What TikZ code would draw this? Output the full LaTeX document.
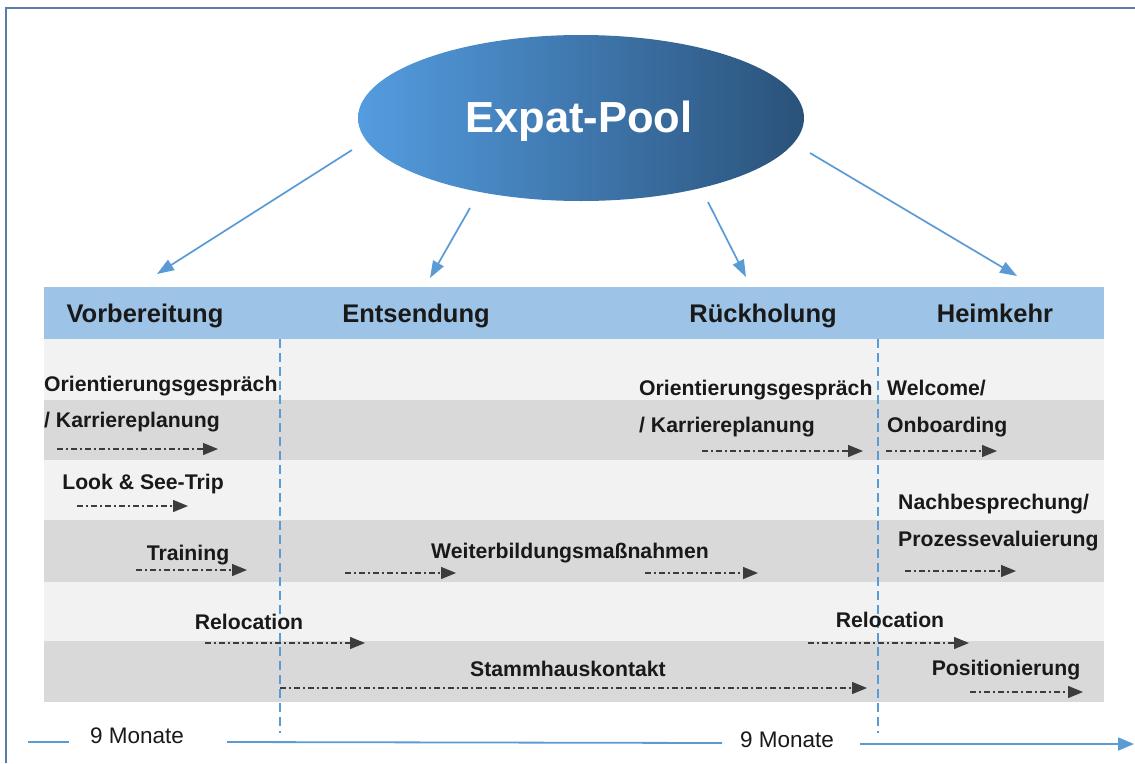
\documentclass[tikz,border=0pt]{standalone}
\usepackage{fontspec}
\setmainfont{Liberation Sans}
\usetikzlibrary{shapes.geometric,arrows.meta}
\definecolor{frameblue}{RGB}{88,125,170}
\definecolor{lineblue}{RGB}{91,155,213}
\definecolor{headband}{RGB}{157,195,230}
\definecolor{rowlight}{RGB}{242,242,242}
\definecolor{rowdark}{RGB}{217,217,217}
\definecolor{ellL}{RGB}{84,156,224}
\definecolor{ellR}{RGB}{42,82,122}
\definecolor{arrgray}{RGB}{60,60,60}
\definecolor{txt}{RGB}{25,25,25}
\tikzset{
  head/.style={font=\fontsize{25.5}{28}\selectfont\bfseries, text=txt, inner sep=0pt, anchor=base},
  body/.style={font=\fontsize{21.2}{24}\selectfont\bfseries, text=txt, inner sep=0pt, anchor=base},
  mon/.style={font=\fontsize{22.5}{25}\selectfont, text=txt, inner sep=0pt, anchor=base},
  poolarrow/.style={draw=lineblue, line width=1.7pt, -{Triangle[length=17pt,width=12pt]}},
  taskarrow/.style={draw=arrgray, line width=1.3pt, dash pattern=on 6pt off 3pt on 2pt off 3pt, -{Triangle[length=15pt,width=12pt]}},
  divider/.style={draw=lineblue, line width=1.2pt, dash pattern=on 9pt off 5pt},
  timeline/.style={draw=lineblue, line width=1.8pt}
}
\begin{document}
\begin{tikzpicture}[x=1pt,y=-1pt]
\useasboundingbox (0,0) rectangle (1135,763);
\fill[white] (0,0) rectangle (1135,763);
% frame
\draw[frameblue, line width=2pt] (6,763) -- (6,8) -- (1135,8);
% header band and rows
\fill[headband] (44,287) rectangle (1104,339);
\fill[rowlight] (44,339) rectangle (1104,400);
\fill[rowdark]  (44,400) rectangle (1104,460);
\fill[rowlight] (44,460) rectangle (1104,520);
\fill[rowdark]  (44,520) rectangle (1104,582);
\fill[rowlight] (44,582) rectangle (1104,641);
\fill[rowdark]  (44,641) rectangle (1104,702);
% ellipse
\node[ellipse, minimum width=446pt, minimum height=166pt, inner sep=0pt,
      left color=ellL, right color=ellR] (pool) at (581,118) {};
\node[font=\fontsize{43.5}{48}\selectfont\bfseries, text=white, inner sep=0pt, anchor=base] (pooltxt) at (579,132) {Expat-Pool};
% headers
\node[head] (h1) at (145,322) {Vorbereitung};
\node[head] (h2) at (416,322) {Entsendung};
\node[head] (h3) at (763,322) {Rückholung};
\node[head] (h4) at (995,322) {Heimkehr};
% pool arrows
\coordinate (s1) at (352,150); \coordinate (e1) at (157,274);
\coordinate (s2) at (470,208); \coordinate (e2) at (430,278);
\coordinate (s3) at (708,202); \coordinate (e3) at (746,277);
\coordinate (s4) at (810,153); \coordinate (e4) at (1017,276);
\draw[poolarrow] (s1) -- (e1);
\draw[poolarrow] (s2) -- (e2);
\draw[poolarrow] (s3) -- (e3);
\draw[poolarrow] (s4) -- (e4);
% dividers
\coordinate (d1t) at (280,339); \coordinate (d1b) at (280,733);
\coordinate (d2t) at (878,339); \coordinate (d2b) at (878,733);
\draw[divider] (d1t) -- (d1b);
\draw[divider] (d2t) -- (d2b);
% left column texts
\node[body, anchor=base west] (t1) at (44,391) {Orientierungsgespräch};
\node[body, anchor=base west] (t2) at (44,427) {/ Karriereplanung};
\coordinate (a1s) at (57,449); \coordinate (a1e) at (218,449);
\draw[taskarrow] (a1s) -- (a1e);
\node[body] (t3) at (143,489) {Look \& See-Trip};
\coordinate (a2s) at (77,506); \coordinate (a2e) at (188,506);
\draw[taskarrow] (a2s) -- (a2e);
\node[body] (t4) at (188,560) {Training};
\coordinate (a3s) at (136,570); \coordinate (a3e) at (247,570);
\draw[taskarrow] (a3s) -- (a3e);
\node[body] (t5) at (570,558) {Weiterbildungsmaßnahmen};
\coordinate (a4s) at (345,573); \coordinate (a4e) at (456,573);
\draw[taskarrow] (a4s) -- (a4e);
\coordinate (a5s) at (645,573); \coordinate (a5e) at (758,573);
\draw[taskarrow] (a5s) -- (a5e);
\node[body] (t6) at (249,629) {Relocation};
\coordinate (a6s) at (205,643); \coordinate (a6e) at (365,643);
\draw[taskarrow] (a6s) -- (a6e);
\node[body] (t7) at (568,676) {Stammhauskontakt};
\coordinate (a7s) at (280,688); \coordinate (a7e) at (867,688);
\draw[taskarrow] (a7s) -- (a7e);
% right texts
\node[body, anchor=base west] (t8) at (639,395) {Orientierungsgespräch};
\node[body, anchor=base west] (t9) at (639,432) {/ Karriereplanung};
\coordinate (a8s) at (702,451); \coordinate (a8e) at (863,451);
\draw[taskarrow] (a8s) -- (a8e);
\node[body, anchor=base west] (t10) at (887,395) {Welcome/};
\node[body, anchor=base west] (t11) at (887,432) {Onboarding};
\coordinate (a9s) at (886,451); \coordinate (a9e) at (997,451);
\draw[taskarrow] (a9s) -- (a9e);
\node[body, anchor=base west] (t12) at (898,509) {Nachbesprechung/};
\node[body, anchor=base west] (t13) at (898,546) {Prozessevaluierung};
\coordinate (a10s) at (905,571); \coordinate (a10e) at (1016,571);
\draw[taskarrow] (a10s) -- (a10e);
\node[body] (t14) at (890,627) {Relocation};
\coordinate (a11s) at (808,643); \coordinate (a11e) at (969,643);
\draw[taskarrow] (a11s) -- (a11e);
\node[body] (t15) at (1006,675) {Positionierung};
\coordinate (a12s) at (970,692); \coordinate (a12e) at (1083,692);
\draw[taskarrow] (a12s) -- (a12e);
% timeline
\node[mon] (m1) at (137,743) {9 Monate};
\node[mon] (m2) at (787,747) {9 Monate};
\coordinate (l0) at (28,742); \coordinate (l1) at (69,742);
\draw[timeline] (l0) -- (l1);
\coordinate (l2) at (227,742); \coordinate (l3) at (722,743);
\draw[timeline] (l2) -- (l3);
\coordinate (l4) at (860,744); \coordinate (l5) at (1134,744);
\draw[timeline, -{Triangle[length=16pt,width=13pt]}] (l4) -- (l5);
\end{tikzpicture}
\end{document}
